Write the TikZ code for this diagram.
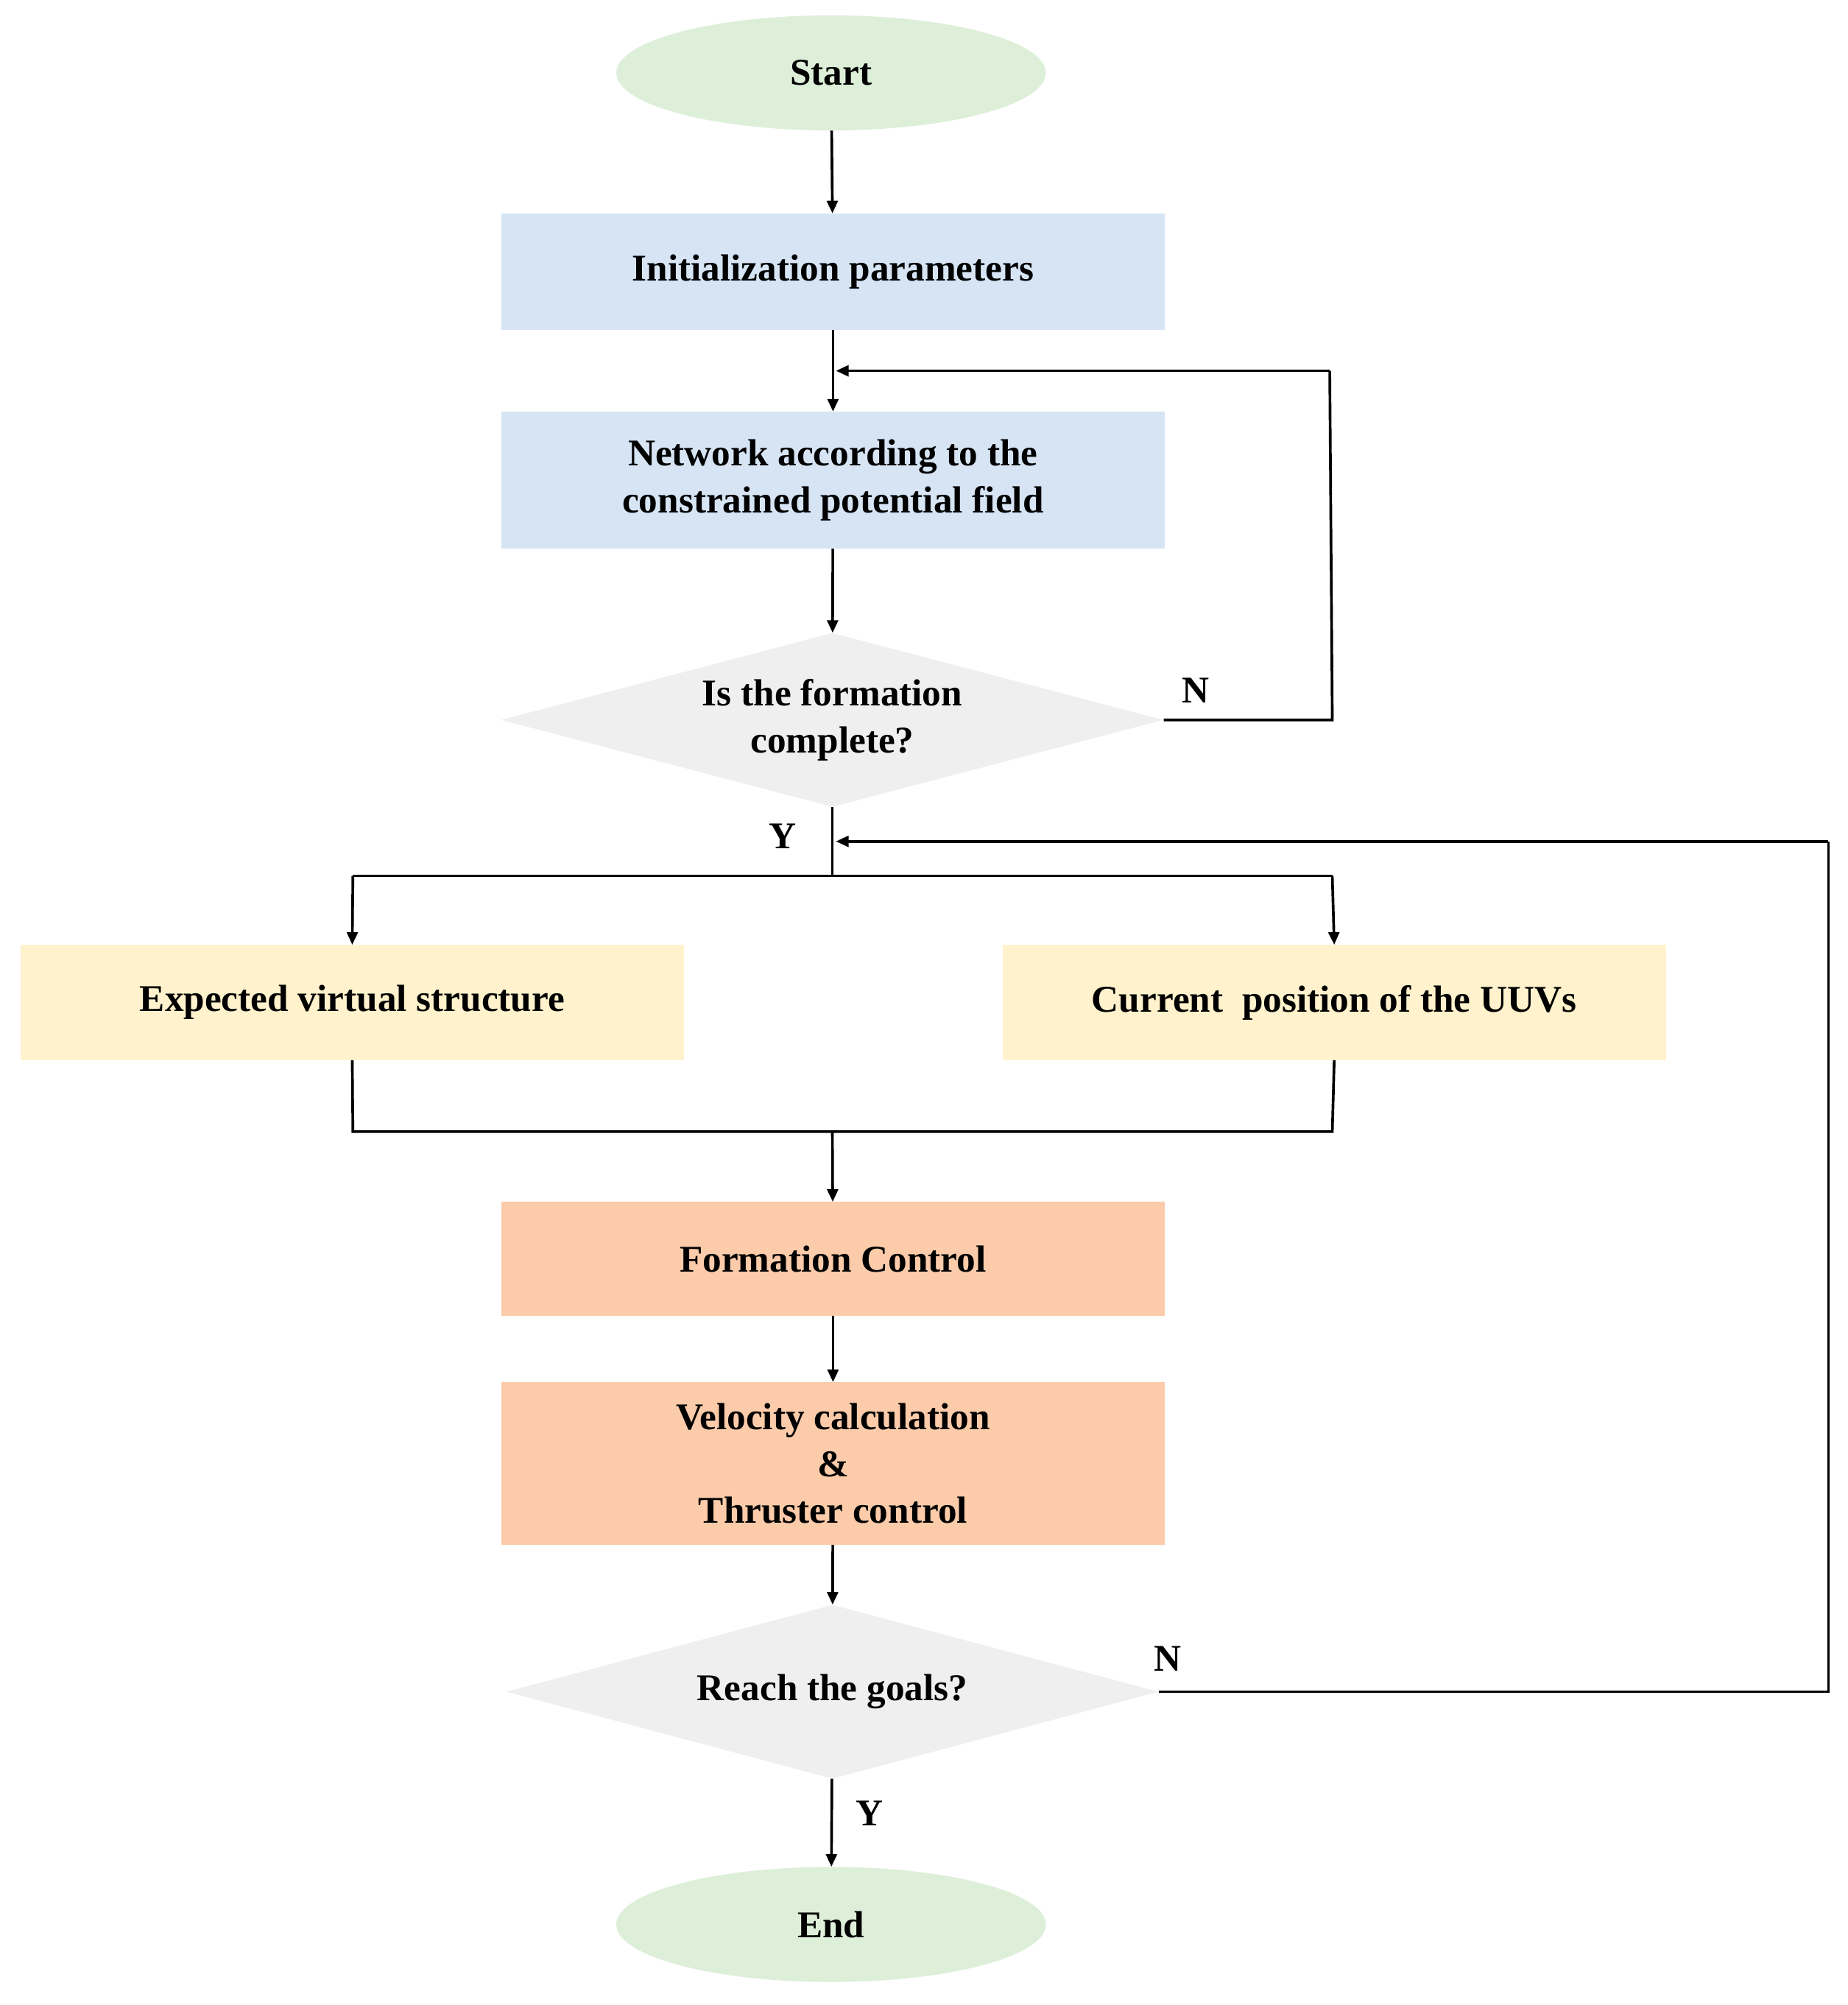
\documentclass[tikz,border=0pt]{standalone}
\usepackage{fontspec}
\setmainfont{Liberation Serif}
\usetikzlibrary{shapes.geometric,arrows.meta}
\definecolor{cg}{HTML}{DDEFD9}
\definecolor{cb}{HTML}{D6E4F4}
\definecolor{cy}{HTML}{FFF2CC}
\definecolor{co}{HTML}{FBCBAA}
\definecolor{cd}{HTML}{EFEFEF}
\begin{document}
\begin{tikzpicture}[x=0.05cm,y=-0.05cm,
  every node/.style={font=\fontsize{42}{52}\selectfont\bfseries,align=center,inner sep=0},
  term/.style={ellipse,fill=cg,minimum width=16.8cm,minimum height=4.5cm},
  box/.style={rectangle,fill=#1,minimum width=25.95cm},
  dec/.style={diamond,fill=cd,aspect=3.8,minimum width=25.9cm,minimum height=6.8cm},
  ln/.style={line width=3pt},
  ar/.style={ln,-{Triangle[length=14pt,width=12pt]}}]
\useasboundingbox (0,0) rectangle (1445,1568);
\node[term] (start) at (650,57) {Start};
\node[box=cb,minimum height=4.55cm] (init) at (651.5,212.5) {Initialization parameters};
\node[box=cb,minimum height=5.35cm] (net) at (651.5,375.5) {Network according to the\\constrained potential field};
\node[dec] (d1) at (651,563) {Is the formation\\complete?};
\node[box=cy,minimum height=4.5cm] (exp) at (275.5,784) {Expected virtual structure};
\node[box=cy,minimum height=4.5cm] (cur) at (1043.5,784) {Current~ position of the UUVs};
\node[box=co,minimum height=4.45cm] (fc) at (651.5,984.5) {Formation Control};
\node[box=co,minimum height=6.35cm] (vel) at (651.5,1144.5) {Velocity calculation\\\&\\Thruster control};
\node[dec,minimum width=25.5cm] (d2) at (651,1323) {Reach the goals?};
\node[term] (end) at (650,1505) {End};
\node (n1) at (935,540) {N};
\node (y1) at (612,654) {Y};
\node (n2) at (913,1297) {N};
\node (y2) at (680,1418) {Y};
\coordinate (j1) at (651,290);
\coordinate (j2) at (651,658);
\coordinate (s) at (651,685);
\coordinate (m) at (651,885);
\draw[ar] (start) -- (init);
\draw[ar] (init) -- (net);
\draw[ar] (net) -- (d1);
\draw[ln] (d1.east) -- (1042,563) -- (1040,290) -- (1040,290);
\draw[ar] (1040,290) -- ([xshift=4]j1);
\draw[ln] (d1.south) -- (s);
\draw[ln] (276,685) -- (1042,685);
\draw[ar] (276,685) -- (exp.north);
\draw[ar] (1042,685) -- (cur.north);
\draw[ln] (exp.south) -- (276,885) -- (1042,885) -- (cur.south);
\draw[ar] (m) -- (fc);
\draw[ar] (fc) -- (vel);
\draw[ar] (vel) -- (d2);
\draw[ln] (d2.east) -- (1430,1323) -- (1430,658);
\draw[ar] (1430,658) -- ([xshift=4]j2);
\draw[ar] (d2) -- (end);
\end{tikzpicture}
\end{document}
